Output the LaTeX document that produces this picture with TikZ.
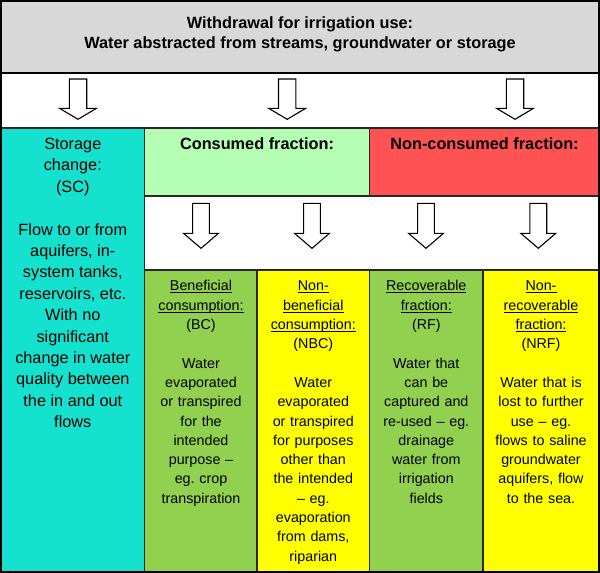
\documentclass[tikz,border=0pt]{standalone}
\usepackage{fontspec}
\setmainfont{Liberation Sans}
\frenchspacing
\definecolor{cGray}{RGB}{216,216,216}
\definecolor{cTeal}{RGB}{20,226,206}
\definecolor{cLight}{RGB}{180,255,180}
\definecolor{cRed}{RGB}{255,82,82}
\definecolor{cGreen}{RGB}{146,208,80}
\definecolor{cYellow}{RGB}{255,255,0}
\definecolor{cLine}{RGB}{40,40,40}
\newcommand{\myul}[1]{\leavevmode\setbox0\hbox{#1}\rlap{\rule[-2.2pt]{\wd0}{0.9pt}}\box0}
\newcommand{\fl}{\rule{0pt}{13pt}}
\newcommand{\blockarr}[6]{\draw[barrow] (#1-#5,#2) -- (#1+#5,#2) -- (#1+#5,#3) -- (#1+#6,#3) -- (#1,#4) -- (#1-#6,#3) -- (#1-#5,#3) -- cycle;}
\begin{document}
\begin{tikzpicture}[x=1pt,y=-1pt,
  cell/.style={draw=cLine,line width=1.2pt},
  barrow/.style={draw=black,fill=white,line width=1.1pt,line join=miter},
  bigtxt/.style={anchor=north,inner sep=0pt,align=center,font=\fontsize{16.3}{21.4}\selectfont},
  headtxt/.style={anchor=north,inner sep=0pt,align=center,font=\fontsize{16.3}{20}\selectfont\bfseries},
  smalltxt/.style={anchor=north,inner sep=0pt,align=center,text width=108pt,font=\fontsize{14.3}{19.3}\selectfont}]
\useasboundingbox (0,0) rectangle (600,573);
% cells
\path[cell,fill=cGray] (1,1) rectangle (599,72.7);
\path[cell,fill=white] (1,72.7) rectangle (599,128);
\path[cell,fill=cTeal] (1,128) rectangle (144.5,572);
\path[cell,fill=cLight] (144.5,128) rectangle (369.5,196);
\path[cell,fill=cRed] (369.5,128) rectangle (599,196);
\path[cell,fill=white] (144.5,196) rectangle (599,270);
\path[cell,fill=cGreen] (144.5,270) rectangle (257,572);
\path[cell,fill=cYellow] (257,270) rectangle (369.5,572);
\path[cell,fill=cGreen] (369.5,270) rectangle (483,572);
\path[cell,fill=cYellow] (483,270) rectangle (599,572);
\draw[black,line width=1.6pt] (1,72.7) -- (599,72.7);
\draw[black,line width=2pt] (1,1) rectangle (599,572);
% arrows
\blockarr{78}{79}{108.3}{119.3}{8.7}{18.5}
\blockarr{287.2}{79}{108.3}{119.3}{8.7}{18.5}
\blockarr{515}{79}{108.3}{119.3}{8.7}{18.5}
\blockarr{201}{203.3}{233.3}{248.3}{8.4}{17.5}
\blockarr{312}{203.3}{233.3}{248.3}{8.4}{17.5}
\blockarr{426}{203.3}{233.3}{248.3}{8.4}{17.5}
\blockarr{538.3}{203.3}{233.3}{248.3}{8.4}{17.5}
% texts
\node[headtxt] (title) at (300,15.3) {\fl Withdrawal for irrigation use:\\Water abstracted from streams, groundwater or storage};
\node[headtxt] (cons) at (257,136.3) {\fl Consumed fraction:};
\node[headtxt] (noncons) at (484.5,136.3) {\fl Non-consumed fraction:};
\node[bigtxt] (sc) at (72.8,136.3) {\fl Storage\\change:\\(SC)\\\mbox{}\\Flow to or from\\aquifers, in-\\system tanks,\\reservoirs, etc.\\With no\\significant\\change in water\\quality between\\the in and out\\flows};
\node[smalltxt] (bc) at (201,277.7) {\fl\myul{Beneficial}\\\myul{consumption:}\\(BC)\\\mbox{}\\Water\\evaporated\\or transpired\\for the\\intended\\purpose --\\eg. crop\\transpiration};
\node[smalltxt] (nbc) at (313.3,277.7) {\fl\myul{Non-}\\\myul{beneficial}\\\myul{consumption:}\\(NBC)\\\mbox{}\\Water\\evaporated\\or transpired\\for purposes\\other than\\the intended\\-- eg.\\evaporation\\from dams,\\riparian};
\node[smalltxt] (rf) at (426.3,277.7) {\fl\myul{Recoverable}\\\myul{fraction:}\\(RF)\\\mbox{}\\Water that\\can be\\captured and\\re-used -- eg.\\drainage\\water from\\irrigation\\fields};
\node[smalltxt] (nrf) at (541,277.7) {\fl\myul{Non-}\\\myul{recoverable}\\\myul{fraction:}\\(NRF)\\\mbox{}\\Water that is\\lost to further\\use -- eg.\\flows to saline\\groundwater\\aquifers, flow\\to the sea.};
\end{tikzpicture}
\end{document}
